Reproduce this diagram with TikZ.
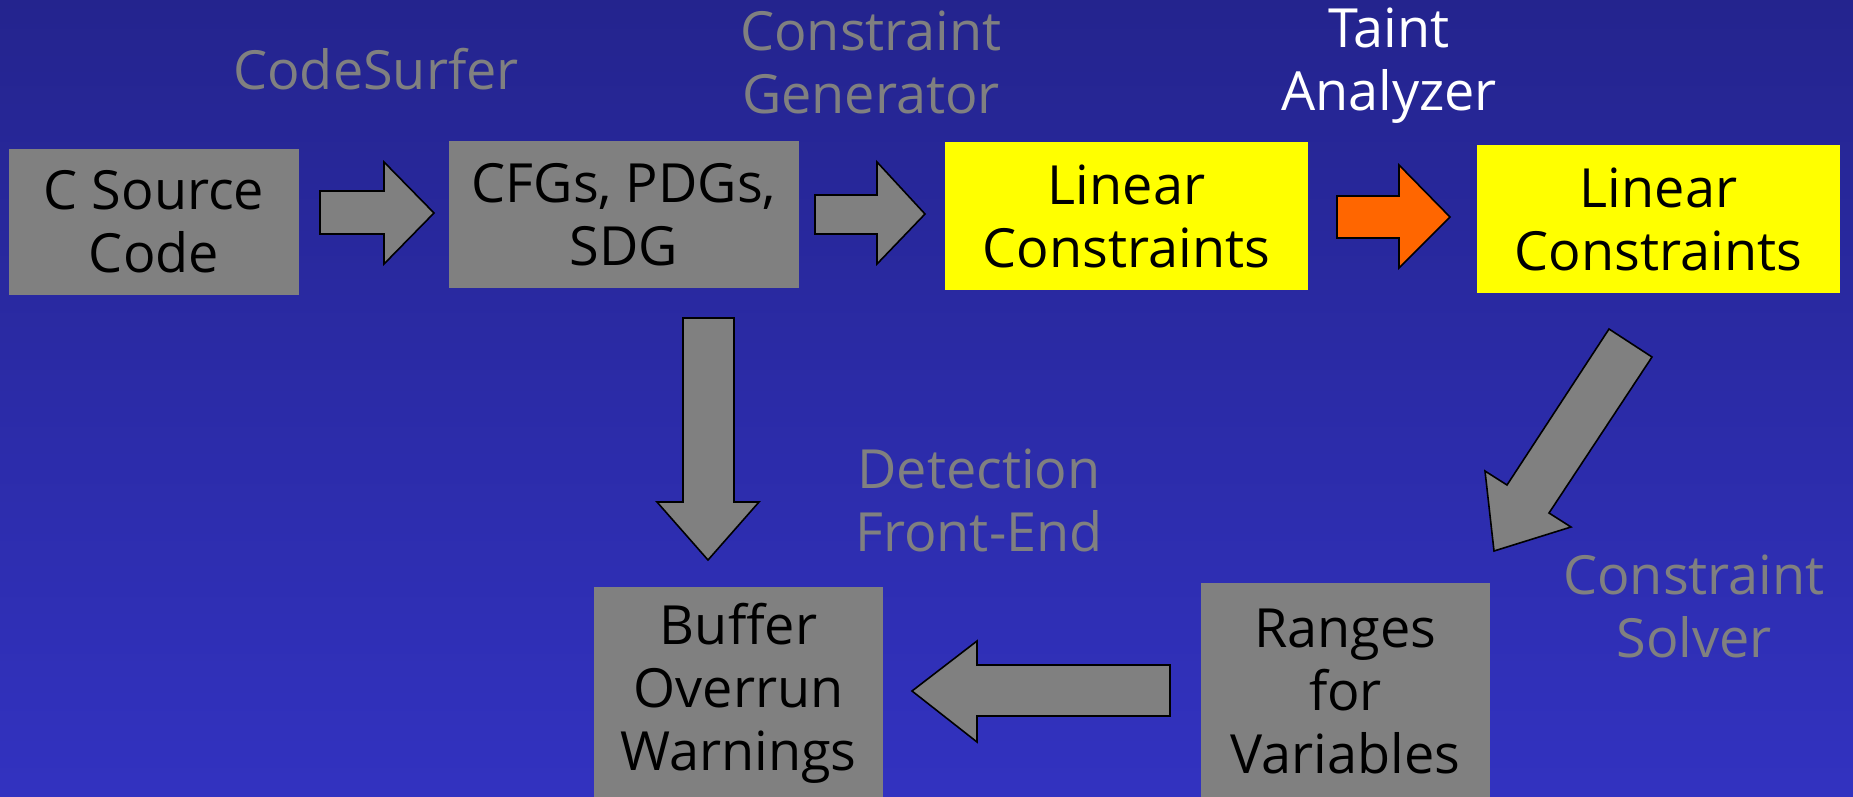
\documentclass[tikz,border=0pt]{standalone}
\usepackage{fontspec}
\setmainfont{Open Sans}
\begin{document}
\begin{tikzpicture}[x=1pt,y=-1pt]
  \definecolor{bgtop}{RGB}{36,36,142}
  \definecolor{bgbot}{RGB}{50,50,192}
  \definecolor{boxgray}{RGB}{128,128,128}
  \definecolor{hotorange}{RGB}{255,102,0}
  \definecolor{pureyellow}{RGB}{255,255,0}
  \tikzset{
    stagebox/.style={rectangle, inner sep=0pt, align=center, text=black,
      font=\fontsize{54}{63}\selectfont},
    graybox/.style={stagebox, fill=boxgray},
    yellowbox/.style={stagebox, fill=pureyellow},
    toollabel/.style={align=center, inner sep=0pt, text=boxgray,
      font=\fontsize{54}{63}\selectfont},
    fatarrow/.style={draw=black, line width=1.6pt, fill=boxgray, line join=miter},
  }
  % background
  \shade[top color=bgtop, bottom color=bgbot] (0,0) rectangle (1853,796);
  \useasboundingbox (0,0) rectangle (1853,796);

  % pipeline stages
  \node[graybox, minimum width=290pt, minimum height=146pt] (src) at (154,222) {C Source\\Code};
  \node[graybox, minimum width=350pt, minimum height=147pt] (cfg) at (624,214.5) {CFGs, PDGs,\\SDG};
  \node[yellowbox, minimum width=363pt, minimum height=148pt] (lin1) at (1126.5,216) {Linear\\Constraints};
  \node[yellowbox, minimum width=363pt, minimum height=148pt] (lin2) at (1658.5,219) {Linear\\Constraints};
  \node[graybox, minimum width=289pt, minimum height=213pt] (buf) at (738.5,693.5) {Buffer\\Overrun\\Warnings};
  \node[graybox, minimum width=289pt, minimum height=217pt] (rng) at (1345.5,691.5) {Ranges\\for\\Variables};

  % tool labels
  \node[toollabel] (surfer) at (376,69) {CodeSurfer};
  \node[toollabel] (gen) at (871,62) {Constraint\\Generator};
  \node[toollabel, text=white] (taint) at (1389,66) {Taint\\Analyzer};
  \node[toollabel] (detect) at (979,500) {Detection\\Front-End};
  \node[toollabel] (solver) at (1694,606) {Constraint\\Solver};

  % block arrows between stages
  \draw[fatarrow] (320,191) -- (384,191) -- (384,162) -- (434,213) -- (384,264) -- (384,234) -- (320,234) -- cycle;
  \draw[fatarrow] (815,195) -- (877,195) -- (877,162) -- (925,214) -- (877,264) -- (877,234) -- (815,234) -- cycle;
  \draw[fatarrow, fill=hotorange] (1337,196) -- (1399,196) -- (1399,165) -- (1450,217) -- (1399,268) -- (1399,238) -- (1337,238) -- cycle;
  \draw[fatarrow] (1609,329) -- (1652,357) -- (1549,513) -- (1571,527) -- (1494,551) -- (1485,471) -- (1507,485) -- cycle;
  \draw[fatarrow] (683,318) -- (734,318) -- (734,502) -- (759,502) -- (708,560) -- (657,502) -- (683,502) -- cycle;
  \draw[fatarrow] (1170,665) -- (977,665) -- (977,641) -- (912,691) -- (977,742) -- (977,716) -- (1170,716) -- cycle;
\end{tikzpicture}
\end{document}
